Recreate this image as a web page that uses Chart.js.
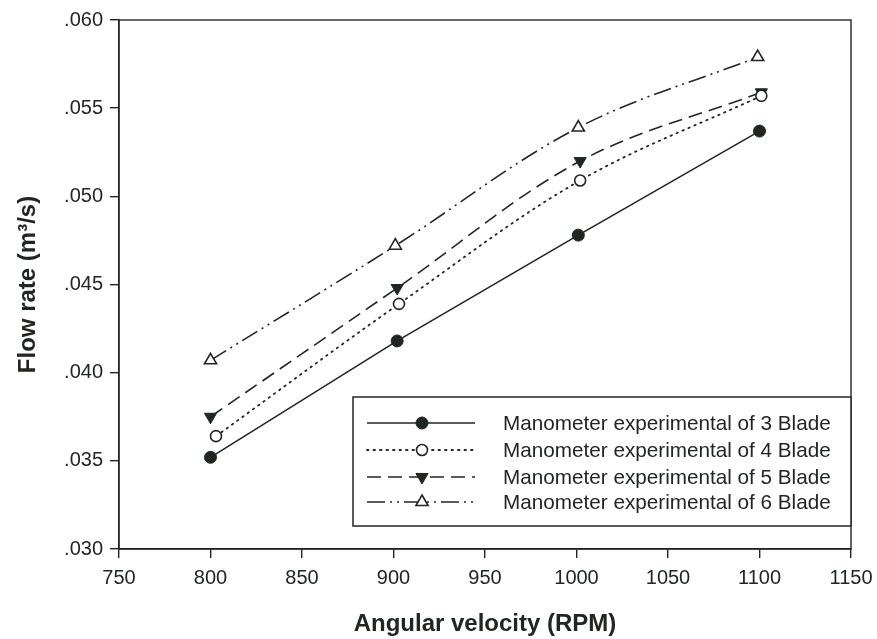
<!DOCTYPE html>
<html>
<head>
<meta charset="utf-8">
<script src="https://cdn.jsdelivr.net/npm/chart.js@4.4.1/dist/chart.umd.min.js"></script>
<style>
  html, body { margin: 0; padding: 0; background: #ffffff; }
  #wrap { width: 877px; height: 639px; position: relative; }
</style>
</head>
<body>
<div id="wrap"><canvas id="c" width="877" height="639"></canvas></div>
<script>
// ---- data ----
const seriesNames = [
  'Manometer experimental of 3 Blade',
  'Manometer experimental of 4 Blade',
  'Manometer experimental of 5 Blade',
  'Manometer experimental of 6 Blade'
];
const rpm3 = [800, 902, 1001, 1100];
const rpm4 = [803, 903, 1002, 1101];
const rpm5 = [800, 902, 1002, 1101];
const rpm6 = [800, 901, 1001, 1099];
const flow3 = [0.0352, 0.0418, 0.0478, 0.0537];
const flow4 = [0.0364, 0.0439, 0.0509, 0.0557];
const flow5 = [0.0375, 0.0448, 0.0520, 0.0559];
const flow6 = [0.0407, 0.0472, 0.0539, 0.0579];
const xTickValues = [750, 800, 850, 900, 950, 1000, 1050, 1100, 1150];
const yTickLabels = ['.030', '.035', '.040', '.045', '.050', '.055', '.060'];
const xTitle = 'Angular velocity (RPM)';
const yTitle = 'Flow rate (m\u00B3/s)';

const INK = '#222622';
const FONT = "'Liberation Sans', Arial, sans-serif";

function pts(xs, ys) { return xs.map((x, i) => ({ x: x, y: ys[i] })); }

const datasets = [
  { label: seriesNames[0], data: pts(rpm3, flow3), borderColor: INK, backgroundColor: INK,
    borderWidth: 1.6, borderDash: [], tension: 0, pointStyle: 'circle', pointRadius: 6,
    pointBackgroundColor: INK, pointBorderColor: INK, pointBorderWidth: 1, pointRotation: 0 },
  { label: seriesNames[1], data: pts(rpm4, flow4), borderColor: INK, backgroundColor: '#fff',
    borderWidth: 1.8, borderDash: [1.5, 5], borderCapStyle: 'round', tension: 0.35, pointStyle: 'circle', pointRadius: 5.5,
    pointBackgroundColor: '#fff', pointBorderColor: INK, pointBorderWidth: 1.6, pointRotation: 0 },
  { label: seriesNames[2], data: pts(rpm5, flow5), borderColor: INK, backgroundColor: INK,
    borderWidth: 1.6, borderDash: [14, 7], tension: 0.35, pointStyle: 'triangle', pointRadius: 7,
    pointBackgroundColor: INK, pointBorderColor: INK, pointBorderWidth: 1, pointRotation: 180 },
  { label: seriesNames[3], data: pts(rpm6, flow6), borderColor: INK, backgroundColor: '#fff',
    borderWidth: 1.6, borderDash: [18, 5, 2, 5, 2, 5], tension: 0.35, pointStyle: 'triangle', pointRadius: 7,
    pointBackgroundColor: '#fff', pointBorderColor: INK, pointBorderWidth: 1.6, pointRotation: 0 }
];
datasets.forEach(d => { d.fill = false; d.pointHoverRadius = d.pointRadius; });

const frame = {
  id: 'frame',
  afterDatasetsDraw(chart) {
    const a = chart.chartArea, ctx = chart.ctx;
    ctx.save();
    ctx.strokeStyle = INK; ctx.lineWidth = 1.4;
    ctx.strokeRect(a.left, a.top, a.right - a.left, a.bottom - a.top);
    // legend box
    const w = 498, h = 129;
    const L = a.right - w, T = a.bottom - 23 - h;
    ctx.fillStyle = '#fff';
    ctx.fillRect(L, T, w, h);
    ctx.lineWidth = 1.5;
    ctx.strokeRect(L, T, w, h);
    const rowsY = [26, 53, 80, 105];
    chart.data.datasets.forEach((d, i) => {
      const y = T + rowsY[i];
      ctx.save();
      ctx.strokeStyle = INK;
      ctx.lineWidth = d.borderWidth;
      ctx.lineCap = d.borderCapStyle || 'butt';
      ctx.setLineDash(d.borderDash || []);
      ctx.beginPath(); ctx.moveTo(L + 14, y); ctx.lineTo(L + 122, y); ctx.stroke();
      ctx.setLineDash([]);
      ctx.fillStyle = d.pointBackgroundColor;
      ctx.strokeStyle = d.pointBorderColor;
      ctx.lineWidth = d.pointBorderWidth;
      Chart.helpers.drawPoint(ctx, { pointStyle: d.pointStyle, radius: d.pointRadius, rotation: d.pointRotation, borderWidth: d.pointBorderWidth }, L + 69, y);
      ctx.restore();
      ctx.fillStyle = INK;
      ctx.font = '20.7px ' + FONT;
      ctx.textBaseline = 'middle';
      ctx.textAlign = 'left';
      ctx.fillText(d.label, L + 150, y + 1);
    });
    ctx.restore();
  }
};

new Chart(document.getElementById('c'), {
  type: 'line',
  data: { datasets: datasets },
  plugins: [frame],
  options: {
    responsive: false,
    animation: false,
    devicePixelRatio: 1,
    layout: { padding: { top: 20, right: 26, bottom: 0, left: 0 } },
    plugins: { legend: { display: false }, tooltip: { enabled: false } },
    scales: {
      x: {
        type: 'linear', min: 750, max: 1150,
        afterBuildTicks: s => { s.ticks = xTickValues.map(v => ({ value: v })); },
        afterFit: s => { s.height = 90; s.paddingLeft = 0; s.paddingRight = 0; },
        grid: { drawOnChartArea: false, drawTicks: true, tickLength: 9, color: INK, lineWidth: 1.4 },
        border: { display: true, color: INK, width: 1.4 },
        ticks: { color: INK, font: { family: FONT, size: 20 }, padding: 8, maxRotation: 0,
                 callback: v => String(v) },
        title: { display: true, text: xTitle, color: INK, font: { family: FONT, size: 24, weight: 'bold' },
                 padding: { top: 10, bottom: 0 } }
      },
      y: {
        type: 'linear', min: 0.030, max: 0.060,
        afterBuildTicks: s => { s.ticks = yTickLabels.map(t => ({ value: parseFloat('0' + t) })); },
        afterFit: s => { s.width = 119; s.paddingTop = 0; s.paddingBottom = 0; },
        grid: { drawOnChartArea: false, drawTicks: true, tickLength: 9, color: INK, lineWidth: 1.4 },
        border: { display: true, color: INK, width: 1.4 },
        ticks: { color: INK, font: { family: FONT, size: 20 }, padding: 7,
                 callback: v => yTickLabels[Math.round((v - 0.030) / 0.005)] },
        title: { display: true, text: yTitle, color: INK, font: { family: FONT, size: 24, weight: 'bold' },
                 padding: { top: 14, bottom: 10 } }
      }
    }
  }
});
</script>
</body>
</html>
